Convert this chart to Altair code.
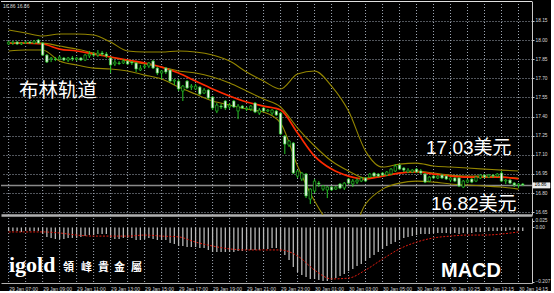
import altair as alt
import pandas as pd

# ---------------- data ----------------
opens = [17.969, 17.976, 17.984, 17.969, 17.976, 17.984, 17.976, 18.000, 17.976, 17.882,
         17.851, 17.851, 17.851, 17.859, 17.843, 17.859, 17.851, 17.859, 17.843, 17.875,
         17.890, 17.882, 17.898, 17.890, 17.859, 17.812, 17.820, 17.820, 17.835, 17.827,
         17.820, 17.765, 17.788, 17.796, 17.835, 17.780, 17.741, 17.780, 17.765, 17.678,
         17.678, 17.600, 17.678, 17.631, 17.616, 17.631, 17.584, 17.608, 17.553, 17.443,
         17.482, 17.522, 17.475, 17.522, 17.443, 17.482, 17.459, 17.459, 17.506, 17.427,
         17.467, 17.443, 17.427, 17.443, 17.427, 17.247, 17.176, 17.192, 16.933, 16.910,
         16.949, 16.753, 16.816, 16.878, 16.831, 16.824, 16.847, 16.831, 16.871, 16.839,
         16.910, 16.871, 16.886, 16.894, 16.918, 16.925, 16.957, 16.949, 16.957, 16.941,
         16.949, 16.973, 17.020, 16.996, 16.965, 16.965, 16.988, 16.973, 16.949, 16.894,
         16.933, 16.918, 16.941, 16.933, 16.902, 16.918, 16.918, 16.847, 16.886, 16.910,
         16.894, 16.918, 16.941, 16.925, 16.941, 16.933, 16.957, 16.894, 16.902, 16.878,
         16.863, 16.871]
highs = [17.992, 17.992, 17.992, 17.984, 17.992, 17.992, 18.000, 18.008, 17.984, 17.890,
         17.867, 17.867, 17.875, 17.867, 17.867, 17.875, 17.867, 17.867, 17.890, 17.914,
         17.906, 17.922, 17.914, 17.906, 17.867, 17.843, 17.835, 17.851, 17.843, 17.835,
         17.827, 17.804, 17.812, 17.827, 17.843, 17.788, 17.765, 17.788, 17.773, 17.694,
         17.694, 17.647, 17.686, 17.655, 17.655, 17.639, 17.624, 17.616, 17.561, 17.506,
         17.498, 17.529, 17.506, 17.529, 17.498, 17.490, 17.475, 17.490, 17.514, 17.467,
         17.475, 17.459, 17.459, 17.451, 17.435, 17.255, 17.216, 17.200, 16.980, 16.965,
         16.957, 16.839, 16.910, 16.894, 16.863, 16.855, 16.855, 16.855, 16.878, 16.886,
         16.918, 16.910, 16.918, 16.925, 16.925, 16.957, 16.965, 16.957, 16.965, 16.973,
         16.996, 17.027, 17.027, 17.004, 16.996, 16.988, 16.996, 16.988, 16.957, 16.933,
         16.941, 16.941, 16.949, 16.941, 16.925, 16.925, 16.925, 16.902, 16.910, 16.918,
         16.933, 16.949, 16.949, 16.949, 16.949, 16.957, 16.973, 16.910, 16.910, 16.886,
         16.878, 16.878]
lows = [17.961, 17.961, 17.961, 17.961, 17.969, 17.969, 17.969, 17.969, 17.875, 17.820,
        17.827, 17.835, 17.843, 17.835, 17.827, 17.835, 17.835, 17.835, 17.835, 17.859,
        17.867, 17.867, 17.875, 17.859, 17.741, 17.796, 17.804, 17.812, 17.804, 17.804,
        17.749, 17.757, 17.773, 17.780, 17.773, 17.725, 17.694, 17.733, 17.671, 17.647,
        17.600, 17.522, 17.616, 17.608, 17.608, 17.569, 17.576, 17.537, 17.451, 17.427,
        17.459, 17.451, 17.459, 17.467, 17.380, 17.459, 17.443, 17.443, 17.427, 17.412,
        17.435, 17.435, 17.412, 17.404, 17.255, 17.106, 17.161, 16.949, 16.918, 16.894,
        16.761, 16.714, 16.800, 16.847, 16.816, 16.761, 16.816, 16.824, 16.831, 16.824,
        16.871, 16.847, 16.871, 16.886, 16.886, 16.918, 16.925, 16.925, 16.933, 16.933,
        16.941, 16.965, 16.980, 16.965, 16.957, 16.957, 16.957, 16.949, 16.878, 16.886,
        16.910, 16.910, 16.910, 16.902, 16.886, 16.886, 16.847, 16.839, 16.878, 16.878,
        16.886, 16.910, 16.918, 16.918, 16.918, 16.925, 16.886, 16.871, 16.871, 16.847,
        16.839, 16.855]
closes = [17.984, 17.984, 17.969, 17.976, 17.984, 17.976, 17.992, 17.976, 17.882, 17.827,
          17.859, 17.847, 17.867, 17.843, 17.859, 17.851, 17.859, 17.843, 17.882, 17.890,
          17.882, 17.898, 17.890, 17.875, 17.804, 17.827, 17.816, 17.835, 17.812, 17.820,
          17.773, 17.780, 17.796, 17.820, 17.780, 17.741, 17.757, 17.749, 17.678, 17.686,
          17.616, 17.639, 17.624, 17.639, 17.639, 17.576, 17.608, 17.545, 17.467, 17.490,
          17.475, 17.467, 17.490, 17.475, 17.482, 17.467, 17.467, 17.482, 17.435, 17.451,
          17.443, 17.451, 17.451, 17.412, 17.263, 17.184, 17.208, 16.957, 16.973, 16.957,
          16.777, 16.831, 16.894, 16.871, 16.855, 16.847, 16.824, 16.847, 16.839, 16.878,
          16.878, 16.894, 16.902, 16.918, 16.894, 16.949, 16.933, 16.933, 16.941, 16.965,
          16.988, 17.012, 16.988, 16.980, 16.980, 16.980, 16.965, 16.957, 16.886, 16.925,
          16.918, 16.933, 16.918, 16.910, 16.918, 16.894, 16.855, 16.894, 16.902, 16.886,
          16.925, 16.941, 16.925, 16.941, 16.933, 16.949, 16.894, 16.902, 16.878, 16.863,
          16.871, 16.863]

# Bollinger bands and red MA, read every 4 bars
band_idx = [0, 4, 8, 12, 16, 20, 24, 28, 32, 36, 40, 44, 48, 52, 56, 60, 64, 68, 72, 76,
            80, 84, 88, 92, 96, 100, 104, 108, 112, 116, 120]
bb_upper = [18.079, 18.055, 18.031, 18.047, 18.047, 18.039, 17.984, 17.914, 17.906, 17.906,
            17.914, 17.906, 17.882, 17.835, 17.749, 17.678, 17.616, 17.733, 17.757, 17.639,
            17.443, 17.129, 17.004, 17.027, 17.035, 17.012, 17.004, 16.996, 16.988, 16.980,
            16.973]
bb_middle = [17.976, 17.976, 17.976, 17.953, 17.929, 17.898, 17.867, 17.835, 17.812, 17.788,
             17.757, 17.741, 17.710, 17.663, 17.600, 17.537, 17.475, 17.310, 17.169, 17.051,
             16.973, 16.918, 16.933, 16.957, 16.973, 16.957, 16.941, 16.933, 16.933, 16.925,
             16.918]
bb_lower = [17.914, 17.922, 17.922, 17.835, 17.804, 17.780, 17.773, 17.757, 17.725, 17.694,
            17.631, 17.576, 17.522, 17.490, 17.459, 17.435, 17.349, 17.012, 16.737, 16.541,
            16.463, 16.714, 16.831, 16.878, 16.894, 16.886, 16.871, 16.863, 16.855, 16.847,
            16.831]
ma_red = [17.976, 17.976, 17.969, 17.929, 17.914, 17.890, 17.867, 17.843, 17.820, 17.788,
          17.741, 17.678, 17.616, 17.561, 17.514, 17.482, 17.451, 17.271, 17.090, 16.988,
          16.933, 16.910, 16.933, 16.957, 16.965, 16.949, 16.933, 16.925, 16.925, 16.925,
          16.910]

macd_hist = [-0.013, -0.013, -0.013, -0.017, -0.013, -0.013, -0.013, -0.013,
             -0.025, -0.036, -0.040, -0.044, -0.044, -0.044, -0.040, -0.040,
             -0.040, -0.036, -0.033, -0.029, -0.029, -0.025, -0.025, -0.025,
             -0.040, -0.044, -0.044, -0.040, -0.040, -0.040, -0.048, -0.048,
             -0.044, -0.040, -0.044, -0.048, -0.048, -0.048, -0.059, -0.063,
             -0.071, -0.071, -0.075, -0.075, -0.075, -0.079, -0.079, -0.086,
             -0.094, -0.094, -0.094, -0.094, -0.094, -0.094, -0.090, -0.090,
             -0.086, -0.086, -0.086, -0.086, -0.082, -0.082, -0.079, -0.079,
             -0.090, -0.105, -0.125, -0.151, -0.171, -0.182, -0.190, -0.197,
             -0.197, -0.201, -0.205, -0.205, -0.201, -0.194, -0.186, -0.178,
             -0.167, -0.159, -0.148, -0.140, -0.128, -0.117, -0.105, -0.094,
             -0.082, -0.071, -0.063, -0.056, -0.048, -0.040, -0.036, -0.033,
             -0.029, -0.025, -0.025, -0.025, -0.021, -0.021, -0.021, -0.021,
             -0.021, -0.021, -0.025, -0.021, -0.021, -0.021, -0.017, -0.017,
             -0.017, -0.013, -0.013, -0.013, -0.013, -0.013, -0.010, -0.010,
             -0.013, -0.013]
macd_signal = [-0.017, -0.017, -0.017, -0.021, -0.029, -0.033, -0.033, -0.033, -0.029, -0.033,
               -0.036, -0.056, -0.071, -0.082, -0.086, -0.086, -0.086, -0.109, -0.163, -0.197,
               -0.194, -0.163, -0.121, -0.082, -0.056, -0.040, -0.033, -0.029, -0.029, -0.025,
               -0.017]

time_labels = ["29 Jan 07:00", "29 Jan 09:00", "29 Jan 11:00", "29 Jan 13:00",
               "29 Jan 15:00", "29 Jan 17:00", "29 Jan 19:00", "29 Jan 21:00",
               "29 Jan 23:00", "30 Jan 01:00", "30 Jan 03:00", "30 Jan 05:00",
               "30 Jan 08:15", "30 Jan 10:25", "30 Jan 12:15", "30 Jan 14:15"]
label_idx = [0, 8, 16, 24, 32, 40, 48, 56, 64, 72, 80, 88, 96, 104, 112, 120]
grid_idx = band_idx
price_ticks = [16.65, 16.80, 16.95, 17.10, 17.25, 17.40, 17.55, 17.70, 17.85, 18.00, 18.15]
macd_ticks = [0.025, 0.0, -0.207]
last_price = 16.86

# ---------------- tables ----------------
n = len(opens)
candles = pd.DataFrame({
    "i": list(range(n)), "o": opens, "h": highs, "l": lows, "c": closes,
    "dir": ["bear" if c < o else "bull" for o, c in zip(opens, closes)],
})
bands = pd.DataFrame({"i": band_idx, "up": bb_upper, "mid": bb_middle,
                      "low": bb_lower, "red": ma_red})
macd = pd.DataFrame({"i": list(range(n)), "v": macd_hist})
sig = pd.DataFrame({"i": band_idx, "s": macd_signal})
grid = pd.DataFrame({"g": grid_idx})
one = pd.DataFrame({"k": [0]})

# ---------------- styles ----------------
W = 531
H_PRICE = 214
H_MACD = 65
GREEN = "#26c626"
OLIVE = "#948600"
GRID = "#a2aab6"
AXIS_TXT = "#d8d8d8"
LBL_FONT = "Liberation Sans"

xs = alt.Scale(domain=[-0.62, 122.0], nice=False, zero=False)
ys = alt.Scale(domain=[16.628, 18.306], nice=False, zero=False)
ms = alt.Scale(domain=[-0.2127, 0.0364], nice=False, zero=False)

x_axis_price = alt.Axis(orient="bottom", labels=False, ticks=False, grid=False,
                        domain=True, domainColor="#b0b0b0", domainWidth=2.5, title=None)
y_axis_price = alt.Axis(orient="right", values=price_ticks, format=".2f",
                        labelFontSize=4.8, labelFont=LBL_FONT, labelColor=AXIS_TXT,
                        labelPadding=1, ticks=True, tickSize=2, tickColor="#c8c8c8",
                        domain=True, domainColor="#c8c8c8", domainWidth=1,
                        grid=True, gridColor=GRID, gridDash=[1, 2], gridWidth=1,
                        labelOverlap=False, labelBound=False, labelFlush=False, title=None)

time_expr = "[" + ",".join("'" + t + "'" for t in time_labels) + "][round(datum.value / 8)]"
x_axis_macd = alt.Axis(orient="bottom", values=label_idx, labelExpr=time_expr,
                       labelAlign="left", labelBaseline="top", labelFontSize=5,
                       labelFont=LBL_FONT, labelColor=AXIS_TXT, labelPadding=3,
                       ticks=False, grid=False, domain=True, domainColor="#b0b0b0",
                       domainWidth=1, labelOverlap=False, labelBound=False,
                       labelFlush=False, title=None)
y_axis_macd = alt.Axis(orient="right", values=macd_ticks,
                       labelExpr="datum.value == 0 ? '0.00' : format(datum.value, '.3f')",
                       labelFontSize=4.8, labelFont=LBL_FONT, labelColor=AXIS_TXT,
                       labelPadding=1, ticks=True, tickSize=2, tickColor="#c8c8c8",
                       domain=True, domainColor="#c8c8c8", grid=False,
                       labelOverlap=False, labelBound=False, labelFlush=False, title=None)

# ---------------- price panel ----------------
vgrid_p = alt.Chart(grid).mark_rule(color=GRID, strokeDash=[1, 2], strokeWidth=1).encode(
    x=alt.X("g:Q", scale=xs, axis=x_axis_price))

top_line = alt.Chart(one).mark_rule(color="#e0e0e0", strokeWidth=1).encode(
    x=alt.value(0), x2=alt.value(W), y=alt.value(0.5))

price_line = alt.Chart(one).mark_rule(color="#8a8a8a", strokeWidth=1.5).encode(
    y=alt.Y(datum=last_price, scale=ys, axis=y_axis_price))


def band_line(col, color, width):
    return alt.Chart(bands).mark_line(color=color, strokeWidth=width, clip=True,
                                      interpolate="monotone").encode(
        x=alt.X("i:Q", scale=xs, axis=x_axis_price),
        y=alt.Y(col + ":Q", scale=ys, axis=y_axis_price))


upper = band_line("up", OLIVE, 1.1)
middle = band_line("mid", OLIVE, 1.1)
lower = band_line("low", OLIVE, 1.1)
red = band_line("red", "#ff2a00", 1.7)

wicks = alt.Chart(candles).mark_rule(color=GREEN, strokeWidth=1, clip=True).encode(
    x=alt.X("i:Q", scale=xs, axis=x_axis_price),
    y=alt.Y("l:Q", scale=ys, axis=y_axis_price),
    y2="h:Q")

bodies = alt.Chart(candles).mark_bar(size=2.4, stroke=GREEN, strokeWidth=0.7,
                                     clip=True).encode(
    x=alt.X("i:Q", scale=xs, axis=x_axis_price),
    y=alt.Y("o:Q", scale=ys, axis=y_axis_price),
    y2="c:Q",
    fill=alt.Fill("dir:N", scale=alt.Scale(domain=["bull", "bear"],
                                           range=["#000000", "#f4f4f4"]), legend=None))

price_box = alt.Chart(one).mark_rect(fill="#e8e8e8", stroke="#ffffff", strokeWidth=0.5).encode(
    x=alt.value(532), x2=alt.value(549),
    y=alt.Y(datum=last_price + 0.021, scale=ys, axis=y_axis_price),
    y2=alt.Y2(datum=last_price - 0.021))
price_box_txt = alt.Chart(one).mark_text(text=f"{last_price:.2f}", fontSize=4.8, font=LBL_FONT,
                                         color="#000000", align="left",
                                         baseline="middle").encode(
    x=alt.value(533.5), y=alt.Y(datum=last_price, scale=ys, axis=y_axis_price))


def label(txt, x, y, size, font, color="#ffffff", weight="normal"):
    return alt.Chart(one).mark_text(text=txt, fontSize=size, font=font, color=color,
                                    fontWeight=weight, align="left",
                                    baseline="alphabetic").encode(
        x=alt.value(x), y=alt.value(y))


cjk = "Liberation Sans, Noto Sans CJK SC"
t_head = alt.Chart(one).mark_text(text=f"{last_price:.2f} {last_price:.2f}", fontSize=5,
                                  font=LBL_FONT, color=AXIS_TXT, align="left",
                                  baseline="middle").encode(x=alt.value(2), y=alt.value(5))
t_boll = label("布林轨道", 18, 96, 19.5, "Noto Sans CJK SC")
t_up = label("17.03美元", 425, 153, 19, cjk)
t_low = label("16.82美元", 430, 209, 19, cjk)

price = alt.layer(vgrid_p, price_line, upper, middle, lower, red, wicks, bodies,
                  price_box, price_box_txt, top_line, t_head, t_boll, t_up, t_low).properties(
    width=W, height=H_PRICE)

# ---------------- MACD panel ----------------
vgrid_m = alt.Chart(grid).mark_rule(color=GRID, strokeDash=[1, 2], strokeWidth=1).encode(
    x=alt.X("g:Q", scale=xs, axis=x_axis_macd))

hist = alt.Chart(macd).mark_bar(size=1.3, color="#b8b8b8").encode(
    x=alt.X("i:Q", scale=xs, axis=x_axis_macd),
    y=alt.Y("v:Q", scale=ms, axis=y_axis_macd),
    y2=alt.Y2(datum=0))

signal = alt.Chart(sig).mark_line(color="#e21c10", strokeWidth=1, strokeDash=[2, 1.5],
                                  interpolate="monotone").encode(
    x=alt.X("i:Q", scale=xs, axis=x_axis_macd),
    y=alt.Y("s:Q", scale=ms, axis=y_axis_macd))

t_macd = label("MACD", 440, 59, 20, "Liberation Sans", weight="bold")
t_igold = label("igold", 8, 54, 22, "Liberation Serif", weight="bold")
logo_chars = ["領", "峰", "貴", "金", "屬"]
logo_x = [62, 80, 97, 113, 130]
logo = [label(ch, lx, 53, 11, "Noto Sans CJK TC", weight="bold")
        for ch, lx in zip(logo_chars, logo_x)]

macd_panel = alt.layer(vgrid_m, hist, signal, t_macd, t_igold, *logo).properties(
    width=W, height=H_MACD)

chart = alt.vconcat(price, macd_panel, spacing=1).properties(
    background="#000000",
    padding={"left": 0, "top": 0, "right": 0, "bottom": 0},
).configure_view(stroke=None)

chart.save("out.html", embed_options={"renderer": "svg", "actions": False})
